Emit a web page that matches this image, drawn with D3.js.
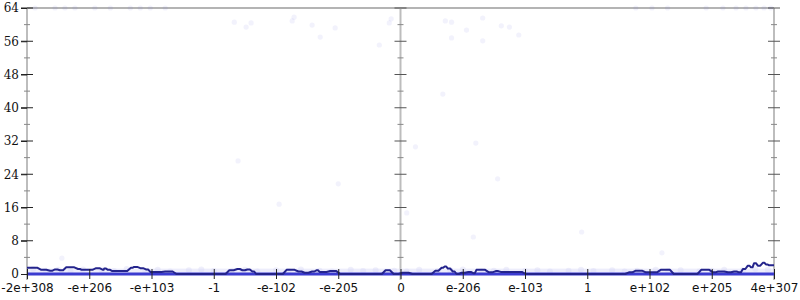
<!DOCTYPE html>
<html>
<head>
<meta charset="utf-8">
<script src="https://cdn.jsdelivr.net/npm/d3@7"></script>
<style>
  body { margin: 0; background: #fff; }
  svg { display: block; }
</style>
</head>
<body>
<div id="chart"></div>
<script>
// x positions are in "tick units": 0 = -2e+308 ... 6 = 0 ... 12 = 4e+307
const xTickLabels = ["-2e+308", "-e+206", "-e+103", "-1", "-e-102", "-e-205", "0",
  "e-206", "e-103", "1", "e+102", "e+205", "4e+307"];
const yTicks = [0, 8, 16, 24, 32, 40, 48, 56, 64];
const yMinorTicks = [4, 12, 20, 28, 36, 44, 52, 60];

// faint scatter points
const dotX = [0.13, 0.45, 0.61, 0.77, 1.09, 1.34, 1.66, 1.82, 1.98, 2.22,
  3.33, 3.52, 3.60, 4.26, 4.29, 4.58, 4.95, 4.71, 5.66, 5.85, 5.82,
  6.72, 6.82, 7.32, 7.06, 7.62, 7.75, 7.90, 6.82, 7.32, 6.68,
  3.39, 5.00, 4.05, 6.24, 7.21, 7.56, 6.10, 8.91, 7.17, 0.56, 10.2,
  9.78, 10.04, 10.29, 10.91, 11.18, 11.39, 11.55, 11.71, 11.84, 11.95];
const dotY = [64, 64, 64, 64, 64, 64, 64, 64, 64, 64,
  60.6, 59.4, 60.4, 60.9, 61.8, 59.9, 59.2, 57.0, 55.1, 61.4, 60.4,
  60.9, 60.6, 61.6, 58.7, 59.7, 59.4, 57.5, 56.8, 56.1, 43.3,
  27.2, 21.7, 16.8, 30.6, 31.5, 22.9, 14.7, 10.1, 8.9, 3.8, 5.1,
  64, 64, 64, 64, 64, 64, 64, 64, 64, 64];

// pale points near zero
const lowX = [0.1, 0.3, 0.5, 0.7, 0.9, 1.2, 1.4, 1.6, 1.9, 2.1, 2.3, 2.6, 2.8, 3.0,
  3.3, 3.5, 3.7, 4.0, 4.2, 4.4, 4.7, 4.9, 5.2, 5.4, 5.6, 5.9, 6.1, 6.3, 6.6,
  6.8, 7.0, 7.3, 7.5, 7.7, 8.0, 8.2, 8.4, 8.7, 8.9, 9.1, 9.4, 9.6, 9.8, 10.1,
  10.3, 10.5, 10.8, 11.0, 11.2, 11.5, 11.7, 11.9];
const lowY = [1.2, 0.8, 1.0, 0.6, 1.1, 0.9, 0.7, 1.2, 0.8, 1.0, 0.6, 0.9, 1.1, 0.7,
  0.8, 1.0, 0.6, 0.9, 0.7, 1.1, 0.8, 0.6, 1.0, 0.7, 0.9, 0.8, 0.6, 1.0, 0.7,
  0.9, 1.1, 0.6, 0.8, 1.0, 0.7, 0.9, 0.6, 0.8, 1.0, 0.7, 0.9, 0.6, 0.8, 1.0,
  0.7, 0.9, 0.6, 0.8, 1.0, 0.9, 1.2, 1.0];

// step line
const stepX = [0, 0.23, 0.37, 0.45, 0.53, 0.63, 0.82, 0.88, 1.11, 1.22, 1.24, 1.30, 1.37,
  1.67, 1.72, 1.82, 1.91, 1.98, 2.22, 2.40, 3.25, 3.38, 3.46, 3.54, 3.62, 3.68,
  4.17, 4.36, 4.46, 4.58, 4.65, 4.70, 4.87, 5.03, 5.76, 5.89, 6.03, 6.19,
  6.56, 6.66, 6.71, 6.76, 6.84, 6.90, 6.98, 7.09, 7.17, 7.22, 7.42, 7.53, 7.61, 8.01,
  9.67, 9.78, 9.94, 10.18, 10.39, 10.83, 11.02, 11.10, 11.26, 11.36, 11.44, 11.50,
  11.58, 11.63, 11.68, 11.74, 11.82, 11.87, 11.92, 12.0];
const stepY = [1.5, 1.0, 0.8, 1.1, 0.9, 1.6, 1.2, 1.0, 1.4, 1.0, 1.3, 1.0, 0.7,
  1.5, 1.7, 1.4, 1.1, 0.5, 0.6, 0, 0.9, 1.2, 0.9, 1.1, 0.6, 0,
  1.0, 0.6, 0.3, 0.6, 0.9, 0.5, 0.7, 0, 0.9, 0, 0.3, 0,
  0.8, 1.5, 1.8, 1.3, 0.6, 0, 0.3, 0.5, 0.2, 1.0, 0.4, 0.7, 0.5, 0,
  0.4, 0.8, 0.4, 1.0, 0, 1.0, 0.4, 0.6, 0.4, 0.6, 0.4, 1.2,
  2.0, 1.6, 2.6, 2.0, 2.7, 2.3, 2.1, 2.1];

const width = 800;
const height = 300;

const svg = d3.select("#chart")
  .append("svg")
  .attr("width", width)
  .attr("height", height);

const x = d3.scaleLinear().domain([0, 12]).range([27, 774]);
const y = d3.scaleLinear().domain([0, 64]).range([274, 8]);

// top border
svg.append("line")
  .attr("x1", x(0)).attr("x2", x(12))
  .attr("y1", y(64)).attr("y2", y(64))
  .attr("stroke", "#b4b4b4")
  .attr("stroke-width", 2);

// vertical axes (left, middle, right)
[0, 6, 12].forEach((pos) => {
  const g = svg.append("g").attr("transform", `translate(${x(pos)},0)`);
  g.append("line")
    .attr("y1", y(64)).attr("y2", y(0) + 6)
    .attr("stroke", "#bdbdbd")
    .attr("stroke-width", 2);
  g.selectAll(".major")
    .data(yTicks.slice(1))
    .enter()
    .append("line")
    .attr("x1", -6).attr("x2", 6)
    .attr("y1", (d) => y(d)).attr("y2", (d) => y(d))
    .attr("stroke", pos === 0 ? "#222" : "#555")
    .attr("stroke-width", 1);
  g.selectAll(".minor")
    .data(yMinorTicks)
    .enter()
    .append("line")
    .attr("x1", -3).attr("x2", 3)
    .attr("y1", (d) => y(d)).attr("y2", (d) => y(d))
    .attr("stroke", "#888")
    .attr("stroke-width", 1);
});

// y labels
svg.append("g")
  .attr("transform", `translate(${x(0)},0)`)
  .call(d3.axisLeft(y).tickValues(yTicks).tickSize(6).tickPadding(2))
  .call((g) => g.select(".domain").remove())
  .call((g) => g.selectAll("line").attr("stroke", "#222"))
  .selectAll("text")
  .attr("font-family", "DejaVu Serif")
  .attr("font-size", 12)
  .attr("fill", "#111");

// faint scatter points
const pts = dotX.map((d, i) => ({ u: d, v: dotY[i] }));
svg.selectAll(".dot")
  .data(pts)
  .enter()
  .append("circle")
  .attr("cx", (d) => x(d.u))
  .attr("cy", (d) => y(d.v))
  .attr("r", 2.6)
  .attr("fill", "#6f6fdc")
  .attr("opacity", 0.09);

const lowPts = lowX.map((d, i) => ({ u: d, v: lowY[i] }));
svg.selectAll(".low")
  .data(lowPts)
  .enter()
  .append("circle")
  .attr("cx", (d) => x(d.u))
  .attr("cy", (d) => y(d.v))
  .attr("r", 3)
  .attr("fill", "#7a7ae0")
  .attr("opacity", 0.12);

// pale band just above zero
svg.append("rect")
  .attr("x", x(0))
  .attr("y", y(1.3))
  .attr("width", x(12) - x(0))
  .attr("height", y(0) - y(1.3))
  .attr("fill", "#d6d6f6")
  .attr("opacity", 0.45);

// zero line
svg.append("line")
  .attr("x1", x(0)).attr("x2", x(12))
  .attr("y1", y(0)).attr("y2", y(0))
  .attr("stroke", "#3b3bd0")
  .attr("stroke-width", 3);

// step line with short sloped transitions
const stepPts = [];
stepX.forEach((u, i) => {
  stepPts.push({ u: u, v: stepY[i] });
  if (i < stepX.length - 1) {
    const next = stepX[i + 1];
    const ramp = Math.min(0.06, (next - u) / 2);
    stepPts.push({ u: next - ramp, v: stepY[i] });
  }
});

const line = d3.line()
  .x((d) => x(d.u))
  .y((d) => y(d.v));

svg.append("path")
  .datum(stepPts)
  .attr("d", line)
  .attr("fill", "none")
  .attr("stroke", "#24248c")
  .attr("stroke-width", 2)
  .attr("stroke-linejoin", "round");

// x axis (ticks cross the zero line)
const xAxis = svg.append("g")
  .attr("transform", `translate(0,${y(0)})`)
  .call(d3.axisBottom(x)
    .tickValues(d3.range(13))
    .tickFormat((i) => xTickLabels[i])
    .tickSize(5)
    .tickPadding(4));
xAxis.select(".domain").remove();
xAxis.selectAll("line").attr("y1", -5).attr("stroke", "#222");
xAxis.selectAll("text")
  .attr("font-family", "DejaVu Sans")
  .attr("font-size", 12)
  .attr("fill", "#111");
</script>
</body>
</html>
